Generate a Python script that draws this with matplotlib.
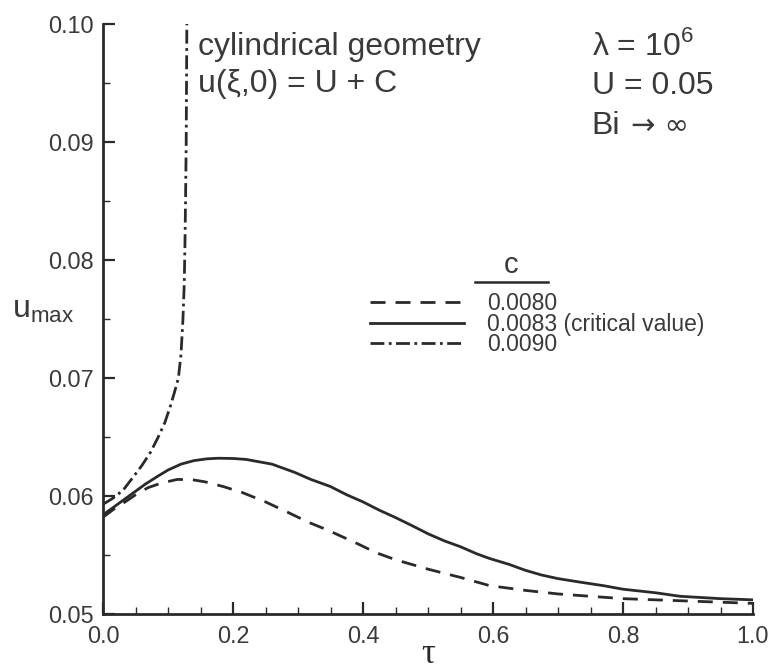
import matplotlib
matplotlib.use("Agg")
import matplotlib.pyplot as plt
from matplotlib.ticker import MultipleLocator

plt.rcParams['font.family'] = ['Liberation Sans', 'DejaVu Sans']
plt.rcParams['mathtext.fontset'] = 'custom'
plt.rcParams['mathtext.rm'] = 'Liberation Sans'

INK = '#2a2a2a'
TXT = '#3a3a3a'

# c = 0.0080 (dashed)
tau_080 = [0.0, 0.017, 0.034, 0.05, 0.069, 0.09, 0.114, 0.135, 0.157, 0.185, 0.214, 0.25,
           0.285, 0.315, 0.346, 0.37, 0.39, 0.42, 0.45, 0.50, 0.55, 0.595, 0.65, 0.70,
           0.75, 0.80, 0.85, 0.90, 0.95, 1.0]
umax_080 = [0.0582, 0.0589, 0.0595, 0.0601, 0.0607, 0.0611, 0.0614, 0.0614, 0.0612, 0.0608,
            0.0603, 0.0595, 0.0586, 0.0578, 0.0571, 0.0565, 0.0560, 0.0552, 0.0546, 0.0538,
            0.0531, 0.0524, 0.0520, 0.0517, 0.0515, 0.0513, 0.0512, 0.0511, 0.0510, 0.0509]

# c = 0.0083 (critical, solid)
tau_083 = [0.0, 0.02, 0.04, 0.065, 0.085, 0.10, 0.12, 0.14, 0.16, 0.177, 0.20, 0.22, 0.24,
           0.26, 0.28, 0.295, 0.32, 0.35, 0.375, 0.40, 0.425, 0.449, 0.475, 0.50, 0.525,
           0.55, 0.575, 0.595, 0.625, 0.65, 0.675, 0.70, 0.734, 0.77, 0.80, 0.85, 0.888,
           0.95, 1.0]
umax_083 = [0.0584, 0.0592, 0.0600, 0.0610, 0.0617, 0.0622, 0.0627, 0.0630, 0.06315, 0.0632,
            0.06318, 0.0631, 0.0629, 0.0627, 0.0623, 0.0620, 0.0614, 0.0608, 0.0601, 0.0595,
            0.0588, 0.0582, 0.0575, 0.0568, 0.0562, 0.0557, 0.0551, 0.0547, 0.0542, 0.0537,
            0.0533, 0.0530, 0.0527, 0.0524, 0.0521, 0.0518, 0.0515, 0.0513, 0.0512]

# c = 0.0090 (dash-dot, blows up)
tau_090 = [0.0, 0.015, 0.031, 0.045, 0.060, 0.073, 0.085, 0.095, 0.103, 0.110, 0.116,
           0.120, 0.123, 0.125, 0.126, 0.127, 0.128, 0.129]
umax_090 = [0.0593, 0.0598, 0.0605, 0.0615, 0.0626, 0.0637, 0.0650, 0.0662, 0.0675, 0.0688,
            0.0700, 0.0720, 0.0750, 0.0780, 0.0810, 0.0850, 0.0900, 0.1000]

c_labels = ['0.0080', '0.0083 (critical value)', '0.0090']
x_ticks = [0.0, 0.2, 0.4, 0.6, 0.8, 1.0]
y_ticks = [0.05, 0.06, 0.07, 0.08, 0.09, 0.10]

fig = plt.figure(figsize=(7.72, 6.71), dpi=100)
ax = fig.add_axes([103 / 772, 1 - 614 / 671, 650 / 772, 590 / 671])

lw = 2.0
l1, = ax.plot(tau_080, umax_080, color=INK, lw=lw, dashes=(5.4, 3.6))
l2, = ax.plot(tau_083, umax_083, color=INK, lw=lw)
l3, = ax.plot(tau_090, umax_090, color=INK, lw=lw, dashes=(5.0, 1.6, 1.0, 1.6))

ax.set_xlim(0, 1.0)
ax.set_ylim(0.05, 0.10)
ax.set_xticks(x_ticks)
ax.set_xticklabels([f'{v:.1f}' for v in x_ticks])
ax.set_yticks(y_ticks)
ax.set_yticklabels([f'{v:.2f}' for v in y_ticks])
ax.xaxis.set_minor_locator(MultipleLocator(0.05))
ax.yaxis.set_minor_locator(MultipleLocator(0.005))

for s in ['top', 'right']:
    ax.spines[s].set_visible(False)
for s in ['left', 'bottom']:
    ax.spines[s].set_linewidth(2.0)
    ax.spines[s].set_color(INK)

ax.tick_params(which='major', direction='in', length=8.6, width=1.6, color=INK,
               labelsize=16.8, labelcolor=TXT)
ax.tick_params(which='minor', direction='in', length=5, width=1.0, color=INK)
ax.tick_params(axis='x', which='major', pad=8)
ax.tick_params(axis='y', which='major', pad=7)

ax.set_xlabel('τ', fontsize=25, family='Liberation Serif', color=INK, va='center')
ax.xaxis.set_label_coords(0.5, -0.068)
ax.text(-0.14, 0.515, r'$\mathregular{u_{max}}$', transform=ax.transAxes, fontsize=23,
        color=TXT, ha='left', va='center')

ax.text(0.146, 0.09737, 'cylindrical geometry', fontsize=23, color=TXT, va='baseline')
ax.text(0.146, 0.09424, 'u(ξ,0) = U + C', fontsize=23, color=TXT, va='baseline')

ax.text(0.752, 0.09737, r'λ = 10$^{\mathregular{6}}$', fontsize=23, color=TXT, va='baseline')
ax.text(0.752, 0.09407, 'U = 0.05', fontsize=23, color=TXT, va='baseline')
ax.text(0.752, 0.09068, 'Bi', fontsize=23, color=TXT, va='baseline')
ax.text(0.813, 0.09068, '→ ∞', fontsize=21, color=TXT, va='baseline', family='DejaVu Sans')

# legend header "c" with underline
ax.text(0.628, 0.578, 'c', transform=ax.transAxes, fontsize=21, color=TXT,
        ha='center', va='baseline')
ax.plot([0.572, 0.685], [0.5627, 0.5627], transform=ax.transAxes, color=INK, lw=1.8,
        clip_on=False)

ax.legend([l1, l2, l3], c_labels, loc='upper left', bbox_to_anchor=(0.411, 0.546),
          frameon=False, fontsize=16.5, handlelength=4.1, handletextpad=1.0,
          labelspacing=-0.1, borderpad=0, borderaxespad=0, labelcolor=TXT)

fig.savefig('out.png', dpi=100, facecolor='white')
